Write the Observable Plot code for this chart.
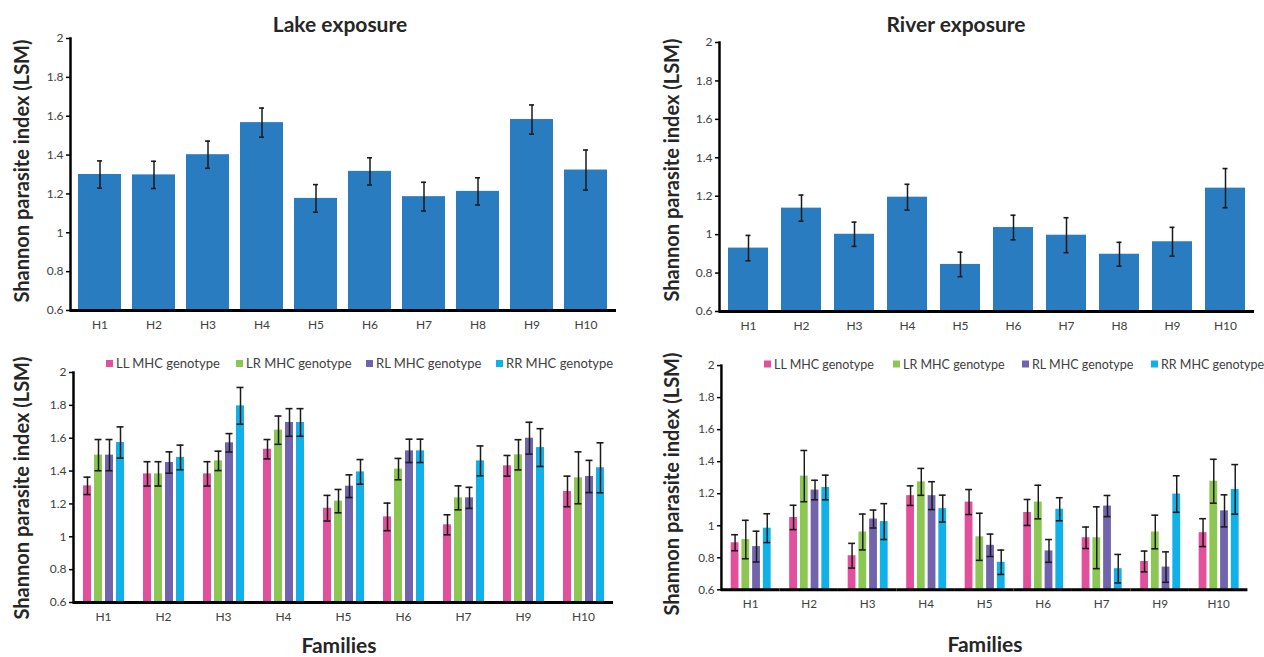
<!DOCTYPE html>
<html>
<head>
<meta charset="utf-8">
<script src="https://cdn.jsdelivr.net/npm/d3@7"></script>
<script src="https://cdn.jsdelivr.net/npm/@observablehq/plot@0.6"></script>
<style>
  html, body { margin: 0; padding: 0; background: #fff; overflow: hidden; }
  #root { position: relative; width: 1264px; height: 657px; overflow: hidden; background: #fff; font-family: Lato, "Open Sans", sans-serif; }
  .panel { position: absolute; }
  .txt { position: absolute; transform: translate(-50%, -50%); white-space: nowrap; color: #262626; }
  .title { font-size: 21px; font-weight: 700; }
  .ytitle { font-size: 20px; font-weight: 700; transform: translate(-50%, -50%) rotate(-90deg); color: #262626; }
  .xtitle { font-size: 21px; font-weight: 700; }
  .legend { position: absolute; display: flex; align-items: center; white-space: nowrap; font-size: 13px; color: #404040; transform: translateY(-50%); }
  .legend span.sw { display: inline-block; width: 7px; height: 7px; margin-right: 3px; }
</style>
</head>
<body>
<div id="root"></div>
<script>
// ---------- data ----------
const families10 = ["H1", "H2", "H3", "H4", "H5", "H6", "H7", "H8", "H9", "H10"];
const lakeMean = [1.30, 1.298, 1.402, 1.567, 1.177, 1.316, 1.186, 1.213, 1.583, 1.323];
const lakeErr = [0.07, 0.07, 0.07, 0.075, 0.071, 0.07, 0.074, 0.07, 0.075, 0.103];
const riverMean = [0.93, 1.138, 1.002, 1.195, 0.845, 1.037, 0.997, 0.898, 0.963, 1.242];
const riverErr = [0.066, 0.068, 0.063, 0.067, 0.064, 0.064, 0.091, 0.062, 0.075, 0.102];

const families9 = ["H1", "H2", "H3", "H4", "H5", "H6", "H7", "H9", "H10"];
const genotypes = ["LL", "LR", "RL", "RR"];
const legendLabels = ["LL MHC genotype", "LR MHC genotype", "RL MHC genotype", "RR MHC genotype"];

const lakeLL = [1.31, 1.383, 1.383, 1.533, 1.174, 1.121, 1.073, 1.432, 1.276];
const lakeLLerr = [0.053, 0.074, 0.074, 0.059, 0.078, 0.084, 0.061, 0.063, 0.093];
const lakeLR = [1.497, 1.383, 1.462, 1.649, 1.217, 1.412, 1.237, 1.499, 1.359];
const lakeLRerr = [0.095, 0.074, 0.059, 0.086, 0.071, 0.065, 0.073, 0.092, 0.158];
const lakeRL = [1.497, 1.452, 1.572, 1.696, 1.308, 1.523, 1.237, 1.60, 1.367];
const lakeRLerr = [0.095, 0.065, 0.056, 0.084, 0.069, 0.071, 0.064, 0.097, 0.098];
const lakeRR = [1.574, 1.483, 1.797, 1.696, 1.395, 1.523, 1.462, 1.543, 1.42];
const lakeRRerr = [0.095, 0.075, 0.112, 0.084, 0.075, 0.071, 0.091, 0.115, 0.152];

const riverLL = [0.894, 1.052, 0.813, 1.188, 1.148, 1.083, 0.925, 0.777, 0.957];
const riverLLerr = [0.05, 0.076, 0.077, 0.061, 0.078, 0.081, 0.067, 0.065, 0.087];
const riverLR = [0.914, 1.31, 0.961, 1.274, 0.931, 1.148, 0.925, 0.961, 1.278];
const riverLRerr = [0.12, 0.16, 0.112, 0.084, 0.147, 0.105, 0.193, 0.105, 0.137];
const riverRL = [0.87, 1.223, 1.042, 1.188, 0.878, 0.843, 1.123, 0.742, 1.093];
const riverRLerr = [0.096, 0.061, 0.056, 0.087, 0.07, 0.071, 0.066, 0.095, 0.1];
const riverRR = [0.985, 1.239, 1.026, 1.107, 0.772, 1.103, 0.732, 1.198, 1.227];
const riverRRerr = [0.09, 0.077, 0.112, 0.084, 0.076, 0.072, 0.089, 0.114, 0.155];

const yTicks = [0.6, 0.8, 1, 1.2, 1.4, 1.6, 1.8, 2];
const titles = ["Lake exposure", "River exposure"];
const yTitle = "Shannon parasite index (LSM)";
const xTitle = "Families";

// ---------- styles ----------
const barBlue = "#2a7cc1";
const genoColors = ["#e2509b", "#8cc653", "#7263ad", "#10b0e8"];
const errColor = "#1a1a1a";

const root = document.getElementById("root");
const plotStyle = { fontFamily: "Lato, 'Open Sans', sans-serif", fontSize: "12px", color: "#404040", background: "transparent", overflow: "visible" };

function place(node, left, top) {
  const d = document.createElement("div");
  d.className = "panel";
  d.style.left = left + "px";
  d.style.top = top + "px";
  d.appendChild(node);
  root.appendChild(d);
}
function text(str, cls, x, y) {
  const d = document.createElement("div");
  d.className = "txt " + cls;
  d.style.left = x + "px";
  d.style.top = y + "px";
  d.textContent = str;
  root.appendChild(d);
}
function legend(xs, y, size) {
  legendLabels.forEach((lab, i) => {
    const d = document.createElement("div");
    d.className = "legend";
    d.style.left = xs[i] + "px";
    d.style.top = y + "px";
    d.style.fontSize = size + "px";
    const sw = document.createElement("span");
    sw.className = "sw";
    sw.style.background = genoColors[i];
    d.appendChild(sw);
    d.appendChild(document.createTextNode(lab));
    root.appendChild(d);
  });
}

const y0 = yTicks[0];
const yTop = yTicks[yTicks.length - 1];
const yDomain = [y0, yTop];
const fmt = d => `${d}`;

function topPanel(means, errs, m) {
  const rows = families10.map((f, i) => ({ family: f, value: means[i], err: errs[i] }));
  return Plot.plot({
    width: m.width, height: m.height,
    marginLeft: m.left, marginRight: m.right, marginTop: m.top, marginBottom: m.bottom,
    style: plotStyle,
    x: { domain: families10, paddingInner: m.pad, paddingOuter: m.pad / 2 },
    y: { domain: yDomain },
    marks: [
      Plot.barY(rows, { x: "family", y1: y0, y2: "value", fill: barBlue }),
      Plot.ruleX(rows, { x: "family", y1: d => d.value - d.err, y2: d => d.value + d.err, stroke: errColor, strokeWidth: 1.5 }),
      Plot.tickY(rows, { x: "family", y: d => d.value - d.err, stroke: errColor, strokeWidth: 1.6, insetLeft: m.cap, insetRight: m.cap }),
      Plot.tickY(rows, { x: "family", y: d => d.value + d.err, stroke: errColor, strokeWidth: 1.6, insetLeft: m.cap, insetRight: m.cap }),
      Plot.ruleY([y0], { stroke: "#000", strokeWidth: 3 }),
      Plot.frame({ anchor: "left", stroke: "#000", strokeWidth: 2.5 }),
      Plot.axisY({ ticks: yTicks, tickFormat: fmt, tickSize: 4, tickPadding: 3, label: null, stroke: "#000", strokeWidth: 1.5 }),
      Plot.axisX({ tickSize: 0, tickPadding: 10, label: null })
    ]
  });
}

function groupPanel(series, errSeries, m) {
  const rows = families9.flatMap((f, i) => genotypes.map((g, j) => ({ family: f, genotype: g, value: series[j][i], err: errSeries[j][i] })));
  return Plot.plot({
    width: m.width, height: m.height,
    marginLeft: m.left, marginRight: m.right, marginTop: m.top, marginBottom: m.bottom,
    style: plotStyle,
    fx: { domain: families9, padding: 0, label: null },
    x: { domain: genotypes, paddingInner: 0.28, paddingOuter: 0.76, axis: null },
    y: { domain: yDomain },
    color: { domain: genotypes, range: genoColors },
    marks: [
      Plot.barY(rows, { fx: "family", x: "genotype", y1: y0, y2: "value", fill: "genotype" }),
      Plot.ruleX(rows, { fx: "family", x: "genotype", y1: d => d.value - d.err, y2: d => d.value + d.err, stroke: errColor, strokeWidth: 1.5 }),
      Plot.tickY(rows, { fx: "family", x: "genotype", y: d => d.value - d.err, stroke: errColor, strokeWidth: 1.6, insetLeft: 0.5, insetRight: 0.5 }),
      Plot.tickY(rows, { fx: "family", x: "genotype", y: d => d.value + d.err, stroke: errColor, strokeWidth: 1.6, insetLeft: 0.5, insetRight: 0.5 }),
      Plot.ruleY([y0], { stroke: "#000", strokeWidth: 3 }),
      Plot.frame({ anchor: "left", facetAnchor: "left", stroke: "#000", strokeWidth: 2.5 }),
      Plot.axisY({ ticks: yTicks, tickFormat: fmt, tickSize: 4, tickPadding: 3, label: null, stroke: "#000", strokeWidth: 1.5 }),
      Plot.axisFx({ anchor: "bottom", tickSize: 0, tickPadding: 10, label: null })
    ]
  });
}

// ---------- panels ----------
place(topPanel(lakeMean, lakeErr, { width: 640, height: 340, left: 70, right: 24, top: 38, bottom: 30, pad: 0.2, cap: 19 }), 0, 0);
place(topPanel(riverMean, riverErr, { width: 624, height: 340, left: 79, right: 10, top: 42, bottom: 29, pad: 0.25, cap: 17.5 }), 640, 0);
place(groupPanel([lakeLL, lakeLR, lakeRL, lakeRR], [lakeLLerr, lakeLRerr, lakeRLerr, lakeRRerr],
  { width: 640, height: 327, left: 70, right: 25, top: 42, bottom: 55 }), 0, 330);
place(groupPanel([riverLL, riverLR, riverRL, riverRR], [riverLLerr, riverLRerr, riverRLerr, riverRRerr],
  { width: 640, height: 327, left: 79, right: 14, top: 36, bottom: 61 }), 640, 330);

// ---------- texts ----------
text(titles[0], "title", 340, 23);
text(titles[1], "title", 956, 23);
text(yTitle, "ytitle", 21, 171);
text(yTitle, "ytitle", 671, 170);
text(yTitle, "ytitle", 21, 488);
text(yTitle, "ytitle", 671, 484);
text(xTitle, "xtitle", 339, 644);
text(xTitle, "xtitle", 985, 643);
legend([106, 236, 366, 496], 363, 13);
legend([764, 893, 1022, 1151], 364, 12.5);
</script>
</body>
</html>
